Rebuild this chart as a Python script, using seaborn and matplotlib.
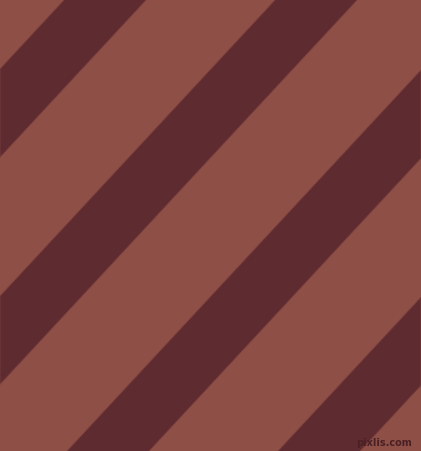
import numpy as np
import pandas as pd
import matplotlib
matplotlib.use("Agg")
import matplotlib.pyplot as plt
import seaborn as sns

# Stripe data (pixel coordinates of the image)
stripe_offsets = [65, 276, 487, 698]   # x where each dark stripe's left edge meets y=0
stripe_width = 82                      # horizontal width of each dark stripe
stripe_slope = 0.929                   # x shift per unit y
light_color = "#8E4F46"
dark_color = "#5E2B30"
watermark = "pixlis.com"

sns.set_theme(style="white")
fig = plt.figure(figsize=(4.21, 4.52), dpi=100)
ax = fig.add_axes([0, 0, 1, 1])
ax.set_facecolor(light_color)
fig.patch.set_facecolor(light_color)

xs = np.linspace(0, 421, 50)
df = pd.DataFrame({"x": xs})
for x0 in stripe_offsets:
    y_top = (x0 - df["x"]) / stripe_slope
    y_bot = (x0 + stripe_width - df["x"]) / stripe_slope
    ax.fill_between(df["x"], y_top, y_bot, color=dark_color, linewidth=0.6,
                    edgecolor="#7a3f3c")

ax.text(412, 448, watermark, ha="right", va="bottom", fontsize=7,
        fontweight="bold", color="#4a2024", family="DejaVu Sans")

ax.set_xlim(0, 421)
ax.set_ylim(452, 0)
ax.set_axis_off()
sns.despine(left=True, bottom=True)
fig.savefig("out.png", dpi=100, facecolor=light_color)
